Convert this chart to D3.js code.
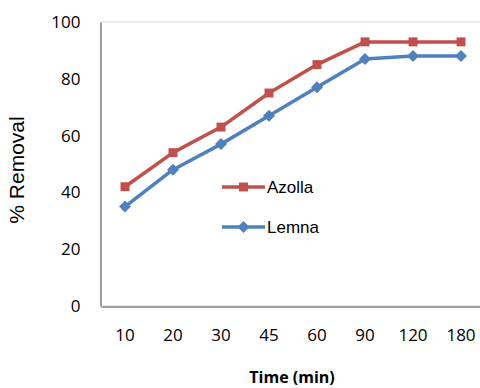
<!DOCTYPE html>
<html>
<head>
<meta charset="utf-8">
<script src="https://cdn.jsdelivr.net/npm/d3@7"></script>
<style>
  body { margin: 0; background: #fff; }
  svg { display: block; }
</style>
</head>
<body>
<div id="chart"></div>
<script>
// data
var times = ["10", "20", "30", "45", "60", "90", "120", "180"];
var azolla = [42, 54, 63, 75, 85, 93, 93, 93];
var lemna = [35, 48, 57, 67, 77, 87, 88, 88];
var yTicks = [0, 20, 40, 60, 80, 100];

var W = 480, H = 388;
var plot = {left: 101, right: 485, top: 22, bottom: 306};

var svg = d3.select("#chart").append("svg")
    .attr("width", W)
    .attr("height", H);

var x = d3.scaleBand()
    .domain(times)
    .range([plot.left, plot.right]);

var y = d3.scaleLinear()
    .domain([0, 100])
    .range([plot.bottom, plot.top]);

// plot area border (only top shows)
svg.append("rect")
    .attr("x", plot.left)
    .attr("y", plot.top)
    .attr("width", plot.right - plot.left)
    .attr("height", plot.bottom - plot.top)
    .attr("fill", "none")
    .attr("stroke", "#d9d9d9")
    .attr("stroke-width", 1);

// y axis
var yAxis = svg.append("g")
    .attr("transform", "translate(" + (plot.left - 0.5) + ",0)")
    .call(d3.axisLeft(y).tickValues(yTicks).tickSize(0).tickPadding(20));
yAxis.select(".domain").attr("stroke", "#868686").attr("stroke-width", 1.5);
yAxis.selectAll("text")
    .attr("font-family", "Open Sans, sans-serif")
    .attr("font-size", 17)
    .attr("fill", "#000");

// x axis
var xAxis = svg.append("g")
    .attr("transform", "translate(0," + (plot.bottom + 0.5) + ")")
    .call(d3.axisBottom(x).tickSize(0).tickPadding(22));
xAxis.select(".domain").attr("stroke", "#868686").attr("stroke-width", 1.5);
xAxis.selectAll("text")
    .attr("font-family", "Open Sans, sans-serif")
    .attr("font-size", 17)
    .attr("fill", "#000");

// axis titles
svg.append("text")
    .text("% Removal")
    .attr("transform", "translate(24,170) rotate(-90)")
    .attr("text-anchor", "middle")
    .attr("font-family", "Liberation Sans, Arial, sans-serif")
    .attr("font-size", 21)
    .attr("fill", "#000");

svg.append("text")
    .text("Time (min)")
    .attr("x", 292)
    .attr("y", 383)
    .attr("text-anchor", "middle")
    .attr("font-family", "Open Sans, sans-serif")
    .attr("font-weight", "bold")
    .attr("font-size", 16)
    .attr("fill", "#000");

var series = [
    {name: "Azolla", values: azolla, color: "#c0504d", rot: 0, size: 80},
    {name: "Lemna", values: lemna, color: "#4f81bd", rot: 45, size: 72}
];

var line = d3.line()
    .x((d, i) => x(times[i]) + x.bandwidth() / 2)
    .y(d => y(d));

// draw Lemna first so Azolla sits on top
series.slice().reverse().forEach(s => {
    svg.append("path")
        .datum(s.values)
        .attr("d", line)
        .attr("fill", "none")
        .attr("stroke", s.color)
        .attr("stroke-width", 3.5)
        .attr("stroke-linejoin", "round");

    svg.selectAll(".pt-" + s.name)
        .data(s.values)
        .enter().append("path")
        .attr("class", "pt-" + s.name)
        .attr("d", d3.symbol().type(d3.symbolSquare).size(s.size))
        .attr("transform", (d, i) => "translate(" + (x(times[i]) + x.bandwidth() / 2) + "," + y(d) + ") rotate(" + s.rot + ")")
        .attr("fill", s.color);
});

// legend
var legendY = [187, 227];
series.forEach((s, i) => {
    var g = svg.append("g")
        .attr("transform", "translate(222," + legendY[i] + ")");
    g.append("line")
        .attr("x1", 0).attr("x2", 43)
        .attr("stroke", s.color)
        .attr("stroke-width", 3.5);
    g.append("path")
        .attr("d", d3.symbol().type(d3.symbolSquare).size(s.size))
        .attr("transform", "translate(21.5,0) rotate(" + s.rot + ")")
        .attr("fill", s.color);
    g.append("text")
        .text(s.name)
        .attr("x", 45)
        .attr("y", 6)
        .attr("font-family", "Liberation Sans, Arial, sans-serif")
        .attr("font-size", 17)
        .attr("fill", "#000");
});
</script>
</body>
</html>
